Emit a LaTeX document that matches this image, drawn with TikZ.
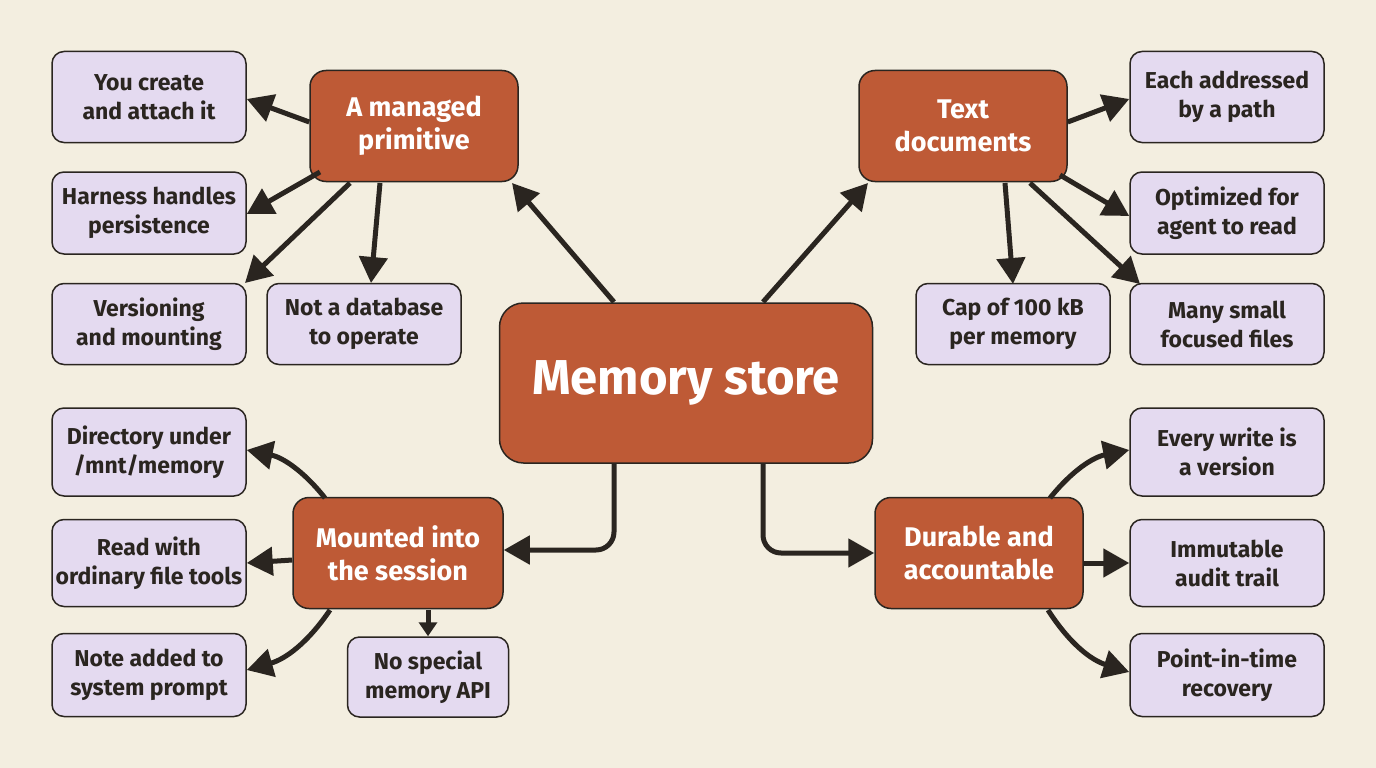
\documentclass[tikz,border=0pt]{standalone}
\usepackage{fontspec}
\setmainfont{Fira Sans}
\usetikzlibrary{arrows.meta}
\definecolor{bg}{HTML}{F3EEE0}
\definecolor{org}{HTML}{BE5A36}
\definecolor{lav}{HTML}{E4DAF0}
\definecolor{ink}{HTML}{2A2520}
\begin{document}
\begin{tikzpicture}[x=1pt,y=-1pt,
 leaf/.style={draw=ink,line width=1.5pt,fill=lav,rounded corners=12pt,minimum width=194pt,minimum height=88pt,align=center,font=\fontsize{23}{29}\selectfont\bfseries,text=ink},
 mid/.style={draw=ink,line width=1.5pt,fill=org,rounded corners=16pt,minimum width=208pt,minimum height=111pt,align=center,font=\fontsize{27}{33}\selectfont\bfseries,text=white},
 ar/.style={draw=ink,line width=5pt,-{Triangle[length=26pt,width=28pt]}},
 arr/.style={ar,rounded corners=18pt}]
\fill[bg] (0,0) rectangle (1376,768);
\node[mid,minimum width=373pt,minimum height=160pt,rounded corners=24pt,font=\fontsize{49}{52}\selectfont\bfseries] (c) at (686,383) {Memory store};
\node[mid] (m) at (414,126) {A managed\\primitive};
\node[mid] (t) at (963,126) {Text\\documents};
\node[mid,minimum width=210pt] (mo) at (398,553) {Mounted into\\the session};
\node[mid] (d) at (979,553) {Durable and\\accountable};
\node[leaf,minimum height=91pt] (l1) at (149,97) {You create\\and attach it};
\node[leaf,minimum height=82pt] (l2) at (149,213) {Harness handles\\persistence};
\node[leaf,minimum height=81pt] (l3) at (149,324) {Versioning\\and mounting};
\node[leaf,minimum height=81pt] (l4) at (364,324) {Not a database\\to operate};
\node[leaf,minimum height=91pt] (r1) at (1227,97) {Each addressed\\by a path};
\node[leaf,minimum height=82pt] (r2) at (1227,213) {Optimized for\\agent to read};
\node[leaf,minimum height=81pt] (r3) at (1227,324) {Many small\\focused files};
\node[leaf,minimum height=81pt] (r4) at (1013,324) {Cap of 100 kB\\per memory};
\node[leaf] (b1) at (149,452) {Directory under\\/mnt/memory};
\node[leaf,minimum height=87pt] (b2) at (149,563) {Read with\\ordinary file tools};
\node[leaf,minimum height=83pt] (b3) at (149,675) {Note added to\\system prompt};
\node[leaf,minimum width=161pt,minimum height=80pt] (b4) at (428,677) {No special\\memory API};
\node[leaf] (e1) at (1227,452) {Every write is\\a version};
\node[leaf,minimum height=87pt] (e2) at (1227,563) {Immutable\\audit trail};
\node[leaf,minimum height=83pt] (e3) at (1227,675) {Point-in-time\\recovery};
% center arrows
\coordinate (c1) at (614,302); \coordinate (c2) at (763,302);
\coordinate (c3) at (614,464); \coordinate (c4) at (763,464);
\draw[ar] (c1) -- (512,183);
\draw[ar] (c2) -- (868,183);
\draw[arr] (c3) -- (614,550) -- (mo.east|-0,550);
\draw[arr] (c4) -- (763,553) -- (d.west);
% managed
\draw[ar] (m.west|-0,122) -- (l1.east|-0,99);
\draw[ar] (320,172) -- (l2.east|-0,214);
\draw[ar] (350,183) -- (245,283);
\draw[ar] (380,183) -- (371,283);
% text
\draw[ar] (t.east|-0,122) -- (r1.west|-0,99);
\draw[ar] (1060,175) -- (r2.west|-0,216);
\draw[ar] (1030,183) -- (1140,284);
\draw[ar] (1005,183) -- (1013,284);
% mounted
\draw[ar] (325,498) to[bend right=20] (b1.east|-0,450);
\draw[ar] (mo.west|-0,560) -- (b2.east|-0,563);
\draw[ar] (330,610) to[bend left=20] (b3.east|-0,670);
\draw[ar,-{Triangle[length=14pt,width=18pt]}] (428,610) -- (b4.north);
% durable
\draw[ar] (1050,498) to[bend left=20] (e1.west|-0,450);
\draw[ar] (d.east|-0,563) -- (e2.west|-0,563);
\draw[ar] (1048,610) to[bend right=20] (e3.west|-0,672);
\end{tikzpicture}
\end{document}
